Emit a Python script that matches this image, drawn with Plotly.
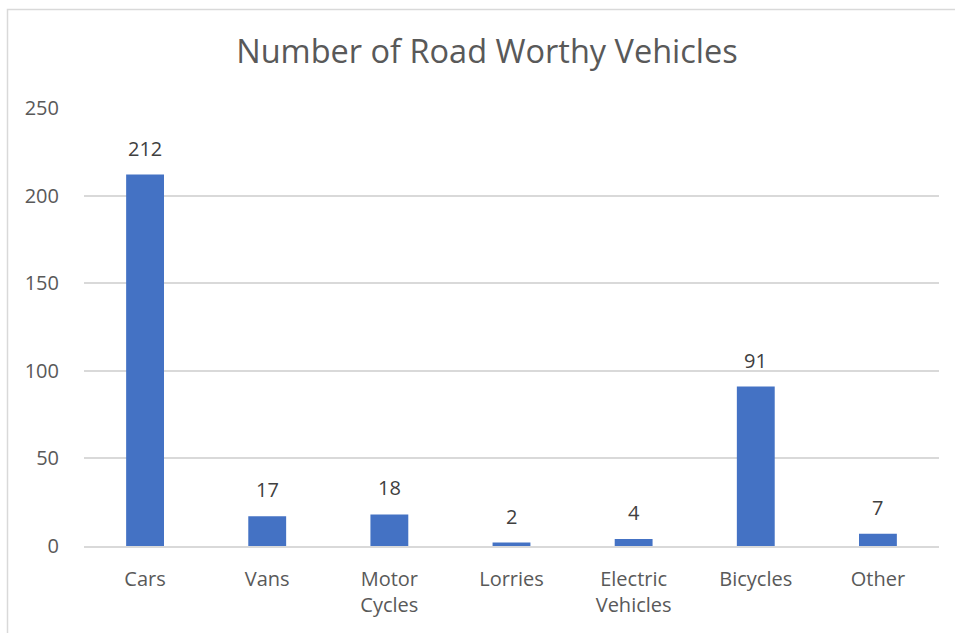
"""Bar chart: number of road worthy vehicles by type."""

import plotly.graph_objects as go

categories = ['Cars', 'Vans', 'Motor<br>Cycles', 'Lorries',
              'Electric<br>Vehicles', 'Bicycles', 'Other']
counts = [212, 17, 18, 2, 4, 91, 7]
y_ticks = [0, 50, 100, 150, 200, 250]

font_family = 'Open Sans, Noto Sans, sans-serif'

fig_w, fig_h = 955, 633
m_l, m_r, m_t, m_b = 84, 16, 108, 87

fig = go.Figure()

fig.add_trace(go.Bar(
    x=categories, y=counts,
    marker=dict(color='#4472C4', line=dict(width=0)),
    hoverinfo='x+y',
    ))

# value labels sit a little higher above the bars than plotly's own outside text
for cat, val in zip(categories, counts):
    fig.add_annotation(
        x=cat, y=val, text=str(val),
        showarrow=False, yanchor='bottom', yshift=11,
        font=dict(size=20, color='#404040', family=font_family),
        )

fig.update_layout(
    width=fig_w, height=fig_h,
    margin=dict(l=m_l, r=m_r, t=m_t, b=m_b),
    paper_bgcolor='white', plot_bgcolor='white',
    bargap=0.69,
    showlegend=False,
    font=dict(family=font_family, color='#595959'),
    title=dict(
        text='Number of Road Worthy Vehicles',
        x=(487 - m_l) / (fig_w - m_l - m_r), xanchor='center', xref='paper',
        y=1 - 52 / fig_h, yanchor='middle',
        font=dict(size=32.5, color='#595959', family=font_family)
        ),
    )

fig.update_xaxes(
    showline=True, linecolor='#D9D9D9', linewidth=1.5,
    showgrid=False, zeroline=False,
    ticks='outside', ticklen=14, tickcolor='rgba(0,0,0,0)',
    tickfont=dict(size=20, color='#595959'),
    fixedrange=True,
    )

fig.update_yaxes(
    range=[0, 250], tickvals=y_ticks,
    showgrid=True, gridcolor='#D9D9D9', gridwidth=1.5,
    zeroline=False, showline=False,
    ticks='outside', ticklen=20, tickcolor='rgba(0,0,0,0)',
    tickfont=dict(size=20, color='#595959'),
    fixedrange=True,
    )

# outer chart frame (runs off the right and bottom edges, as in the original)
plot_w = fig_w - m_l - m_r
plot_h = fig_h - m_t - m_b
fig.add_shape(
    type='rect', xref='paper', yref='paper',
    x0=(7.5 - m_l) / plot_w, x1=(fig_w + 20 - m_l) / plot_w,
    y0=-(m_b + 20) / plot_h, y1=(plot_h + m_t - 9.5) / plot_h,
    line=dict(color='#D9D9D9', width=1.5),
    fillcolor='rgba(0,0,0,0)', layer='below',
    )

# drop the default body margin so the figure fills the window exactly
fig.write_html(
    'out.html',
    config=dict(displayModeBar=False),
    post_script="document.body.style.margin='0';document.body.style.overflow='hidden';",
)
